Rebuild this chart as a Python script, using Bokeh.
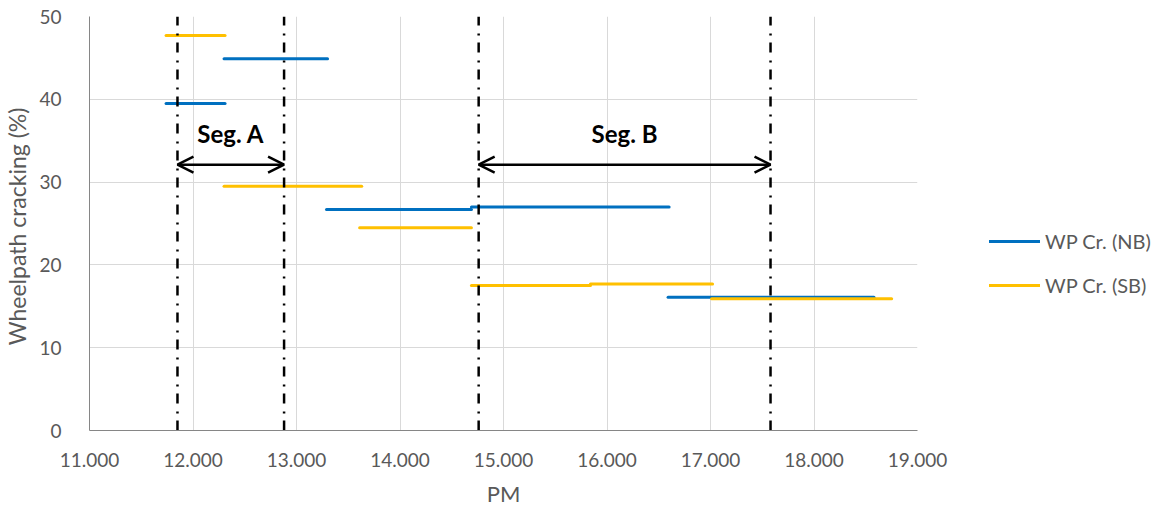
from bokeh.plotting import figure
from bokeh.models import (ColumnDataSource, Legend, LegendItem, Arrow, OpenHead,
                          NumeralTickFormatter, FixedTicker, Range1d)
from bokeh.core.properties import value
from bokeh.embed import file_html
from bokeh.resources import INLINE

# ---- data ----
nb_start = [11.74, 12.30, 13.29, 14.69, 16.59]
nb_end = [12.31, 13.30, 14.69, 16.60, 18.58]
nb_val = [39.5, 44.9, 26.7, 27.0, 16.1]

sb_start = [11.74, 12.30, 13.61, 14.69, 15.84, 17.01]
sb_end = [12.31, 13.63, 14.69, 15.84, 17.02, 18.75]
sb_val = [47.7, 29.5, 24.5, 17.5, 17.7, 15.9]

seg_bounds = [11.85, 12.88, 14.76, 17.58]
seg_labels = ["Seg. A", "Seg. B"]
arrow_y = 32.1
label_y = 35.9

x_ticks = [11, 12, 13, 14, 15, 16, 17, 18, 19]
y_ticks = [0, 10, 20, 30, 40, 50]

FONT = "Lato"
GREY_TXT = "#595959"
BLUE = "#0070C0"
YELLOW = "#FFC000"

p = figure(frame_width=828, frame_height=414, output_backend="svg",
           toolbar_location=None,
           x_range=Range1d(11, 19), y_range=Range1d(0, 50),
           min_border_left=89, min_border_right=0, min_border_top=16,
           min_border_bottom=80)
p.outline_line_color = None
p.background_fill_color = "white"

# axes
for ax in (p.xaxis[0], p.yaxis[0]):
    ax.axis_line_color = "#868686"
    ax.axis_line_width = 1
    ax.major_tick_line_color = None
    ax.minor_tick_line_color = None
    ax.major_label_text_font = FONT
    ax.major_label_text_font_size = "19px"
    ax.major_label_text_color = GREY_TXT
    ax.axis_label_text_font = FONT
    ax.axis_label_text_font_size = "22px"
    ax.axis_label_text_font_style = "normal"
    ax.axis_label_text_color = GREY_TXT

p.xaxis.ticker = FixedTicker(ticks=x_ticks)
p.yaxis.ticker = FixedTicker(ticks=y_ticks)
p.xaxis.formatter = NumeralTickFormatter(format="0.000")
p.xaxis.axis_label = "PM"
p.yaxis.axis_label = "Wheelpath cracking  (%)"
p.yaxis.axis_label_text_font_size = "23px"
p.xaxis.major_label_standoff = 16
p.yaxis.major_label_standoff = 22
p.xaxis.axis_label_standoff = 10
p.yaxis.axis_label_standoff = 5

p.xgrid.ticker = FixedTicker(ticks=x_ticks)
p.ygrid.ticker = FixedTicker(ticks=y_ticks)
p.xgrid.grid_line_color = "#D9D9D9"
p.ygrid.grid_line_color = "#D9D9D9"
p.xgrid.grid_line_width = 1
p.ygrid.grid_line_width = 1

# series
nb_src = ColumnDataSource(dict(x0=nb_start, x1=nb_end, y=nb_val))
sb_src = ColumnDataSource(dict(x0=sb_start, x1=sb_end, y=sb_val))
r_nb = p.segment(x0="x0", y0="y", x1="x1", y1="y", source=nb_src,
                 line_color=BLUE, line_width=3, line_cap="round")
r_sb = p.segment(x0="x0", y0="y", x1="x1", y1="y", source=sb_src,
                 line_color=YELLOW, line_width=3, line_cap="round")

# segment boundaries
vb_src = ColumnDataSource(dict(x=seg_bounds, y0=[0] * len(seg_bounds),
                               y1=[50] * len(seg_bounds)))
p.segment(x0="x", y0="y0", x1="x", y1="y1", source=vb_src,
          line_color="black", line_width=2.5, line_dash="10 7 2 8")

# arrows and labels
for i in range(len(seg_labels)):
    xa = seg_bounds[2 * i]
    xb = seg_bounds[2 * i + 1]
    p.add_layout(Arrow(x_start=xa, y_start=arrow_y, x_end=xb, y_end=arrow_y,
                       line_color="black", line_width=2.5,
                       start=OpenHead(size=16, line_width=2.5, line_color="black"),
                       end=OpenHead(size=16, line_width=2.5, line_color="black")))

lab_src = ColumnDataSource(dict(
    x=[(seg_bounds[2 * i] + seg_bounds[2 * i + 1]) / 2 for i in range(len(seg_labels))],
    y=[label_y] * len(seg_labels), t=seg_labels))
p.text(x="x", y="y", text="t", source=lab_src, text_font=value(FONT),
       text_font_style="bold", text_font_size="24px", text_color="black",
       text_align="center", text_baseline="middle")

legend = Legend(items=[LegendItem(label="WP Cr. (NB)", renderers=[r_nb]),
                       LegendItem(label="WP Cr. (SB)", renderers=[r_sb])],
                location=(72, 133), orientation="vertical",
                border_line_color=None, background_fill_alpha=0,
                padding=0, margin=0, spacing=20,
                glyph_width=51, glyph_height=20, label_height=20,
                label_standoff=5, label_text_font=FONT,
                label_text_font_size="20px", label_text_color=GREY_TXT)
p.add_layout(legend, "right")

open("out.html", "w").write(file_html(p, INLINE))
